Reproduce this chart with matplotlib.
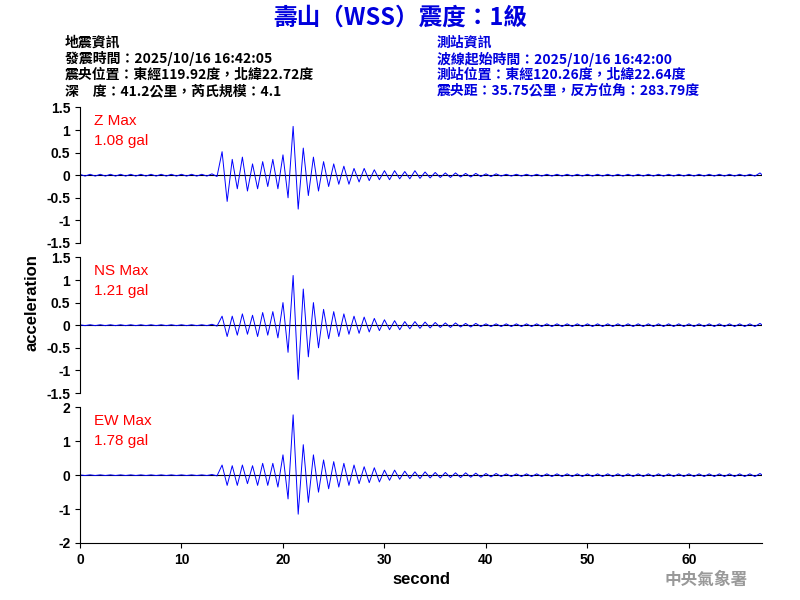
import numpy as np
import matplotlib
matplotlib.use('Agg')
import matplotlib.pyplot as plt

plt.rcParams['font.family'] = ['Noto Sans CJK TC', 'DejaVu Sans']

# sample times, 0.5 s step
time_s = np.arange(0, 70, 0.5)

z_acc = [0.02,-0.02,0.02,-0.02,0.02,-0.02,0.02,-0.02,0.02,-0.02,0.02,-0.02,0.02,-0.02,
         0.02,-0.02,0.02,-0.02,0.02,-0.02,0.02,-0.02,0.02,-0.02,0.02,-0.02,0.03,-0.03,
         0.52,-0.58,0.35,-0.3,0.4,-0.35,0.25,-0.3,0.3,-0.25,0.35,-0.3,
         0.45,-0.5,1.08,-0.75,0.6,-0.45,0.4,-0.35,
         0.3,-0.25,0.25,-0.2,0.2,-0.2,0.15,-0.15,0.15,-0.12,0.12,-0.1,
         0.1,-0.1,0.1,-0.08,0.08,-0.08,0.1,-0.07,0.07,-0.06,0.06,-0.05,0.05,-0.05,0.05,-0.04,0.04,-0.04,0.04,-0.03,
         0.03,-0.03,0.03,-0.02,0.02,-0.02,0.02,-0.02,0.02,-0.02,0.02,-0.02,0.02,-0.02,0.02,-0.02,0.02,-0.02,0.02,-0.02,
         0.02,-0.02,0.02,-0.02,0.02,-0.02,0.02,-0.02,0.02,-0.02,0.02,-0.02,0.02,-0.02,0.02,-0.02,0.02,-0.02,0.02,-0.02,
         0.02,-0.02,0.02,-0.02,0.02,-0.02,0.02,-0.02,0.02,-0.02,0.02,-0.02,0.02,-0.02,0.05,-0.05,0.04,-0.03,0.02,-0.02]

ns_acc = [0.01,-0.01,0.01,-0.01,0.01,-0.01,0.01,-0.01,0.01,-0.01,0.01,-0.01,0.01,-0.01,
          0.01,-0.01,0.01,-0.01,0.01,-0.01,0.01,-0.01,0.01,-0.01,0.01,-0.01,0.02,-0.02,
          0.2,-0.25,0.2,-0.22,0.25,-0.2,0.22,-0.25,0.28,-0.22,0.3,-0.28,
          0.5,-0.6,1.1,-1.2,0.8,-0.7,0.5,-0.5,
          0.35,-0.3,0.3,-0.25,0.25,-0.2,0.2,-0.18,0.18,-0.15,0.15,-0.12,
          0.12,-0.1,0.1,-0.1,0.08,-0.08,0.08,-0.07,0.07,-0.06,0.06,-0.05,0.05,-0.05,0.05,-0.04,0.04,-0.04,0.04,-0.03,
          0.03,-0.03,0.03,-0.03,0.03,-0.03,0.03,-0.03,0.03,-0.03,0.03,-0.03,0.03,-0.03,0.03,-0.03,0.03,-0.03,0.03,-0.03,
          0.03,-0.03,0.03,-0.03,0.03,-0.03,0.03,-0.03,0.03,-0.03,0.03,-0.03,0.03,-0.03,0.03,-0.03,0.03,-0.03,0.03,-0.03,
          0.03,-0.03,0.03,-0.03,0.03,-0.03,0.03,-0.03,0.03,-0.03,0.03,-0.03,0.03,-0.03,0.04,-0.04,0.04,-0.03,0.03,-0.03]

ew_acc = [0.01,-0.01,0.01,-0.01,0.01,-0.01,0.01,-0.01,0.01,-0.01,0.01,-0.01,0.01,-0.01,
          0.01,-0.01,0.01,-0.01,0.01,-0.01,0.01,-0.01,0.01,-0.01,0.01,-0.01,0.02,-0.02,
          0.3,-0.3,0.28,-0.3,0.3,-0.25,0.28,-0.3,0.35,-0.3,0.35,-0.35,
          0.6,-0.7,1.78,-1.15,0.9,-0.8,0.6,-0.5,
          0.45,-0.4,0.4,-0.35,0.35,-0.3,0.3,-0.25,0.25,-0.22,0.22,-0.2,
          0.15,-0.15,0.15,-0.12,0.12,-0.1,0.1,-0.1,0.1,-0.08,0.08,-0.08,0.08,-0.07,0.07,-0.07,0.07,-0.06,0.06,-0.06,
          0.05,-0.05,0.05,-0.04,0.04,-0.04,0.04,-0.04,0.04,-0.04,0.04,-0.04,0.04,-0.04,0.04,-0.04,0.04,-0.04,0.04,-0.04,
          0.04,-0.04,0.04,-0.04,0.04,-0.04,0.04,-0.04,0.04,-0.04,0.04,-0.04,0.04,-0.04,0.04,-0.04,0.04,-0.04,0.04,-0.04,
          0.04,-0.04,0.04,-0.04,0.04,-0.04,0.04,-0.04,0.04,-0.04,0.04,-0.04,0.04,-0.04,0.05,-0.05,0.04,-0.04,0.04,-0.04]

labels = ['Z Max\n1.08 gal', 'NS Max\n1.21 gal', 'EW Max\n1.78 gal']
y_limits = [1.5, 1.5, 2]
y_ticks = [[-1.5, -1, -0.5, 0, 0.5, 1, 1.5], [-1.5, -1, -0.5, 0, 0.5, 1, 1.5], [-2, -1, 0, 1, 2]]
x_ticks = [0, 10, 20, 30, 40, 50, 60]

left_info = ['地震資訊', '發震時間：2025/10/16 16:42:05',
             '震央位置：東經119.92度，北緯22.72度', '深　度：41.2公里，芮氏規模：4.1']
right_info = ['測站資訊', '波線起始時間：2025/10/16 16:42:00',
              '測站位置：東經120.26度，北緯22.64度', '震央距：35.75公里，反方位角：283.79度']

LAT = ['Liberation Sans', 'DejaVu Sans']

fig = plt.figure(figsize=(8, 6), dpi=100)
fig.text(0.5, 0.97, '壽山（WSS）震度：1級', ha='center', va='center',
         fontsize=17, fontweight='bold', color='#0000dd')
for i, (lt, rt) in enumerate(zip(left_info, right_info)):
    y = 1 - (43 + 16 * i) / 600
    fig.text(0.081, y, lt, fontsize=10, fontweight='bold', color='black', va='center')
    fig.text(0.546, y, rt, fontsize=10, fontweight='bold', color='#0000dd', va='center')

bottoms = [0.595, 0.345, 0.095]
traces = [z_acc, ns_acc, ew_acc]
for i in range(3):
    ax = fig.add_axes([0.1, bottoms[i], 0.8525, 0.226])
    ax.axhline(0, color='black', lw=0.8)
    ax.plot(time_s, traces[i], color='blue', lw=0.7)
    ax.set_xlim(0, 67.2)
    ax.set_ylim(-y_limits[i], y_limits[i])
    ax.set_yticks(y_ticks[i])
    ax.set_yticklabels([f'{v:g}' for v in y_ticks[i]], fontsize=10, family=LAT, fontweight='bold')
    for s in ['top', 'right']:
        ax.spines[s].set_visible(False)
    ax.text(0.02, 0.95, labels[i], transform=ax.transAxes, color='red', fontsize=11,
            va='top', family=LAT, linespacing=1.5)
    if i < 2:
        ax.spines['bottom'].set_visible(False)
        ax.set_xticks([])
    else:
        ax.set_xticks(x_ticks)
        ax.set_xticklabels([str(v) for v in x_ticks], fontsize=10, family=LAT, fontweight='bold')
        ax.set_xlabel('second', fontsize=12, family=LAT, fontweight='bold')

fig.text(0.04, 1 - 303 / 600, 'acceleration', rotation=90, ha='center', va='center',
         fontsize=12, family=LAT, fontweight='bold')
fig.text(0.935, 1 - 580 / 600, '中央氣象署', ha='right', va='center', fontsize=12,
         fontweight='bold', color='#999999')

fig.savefig('out.png')
